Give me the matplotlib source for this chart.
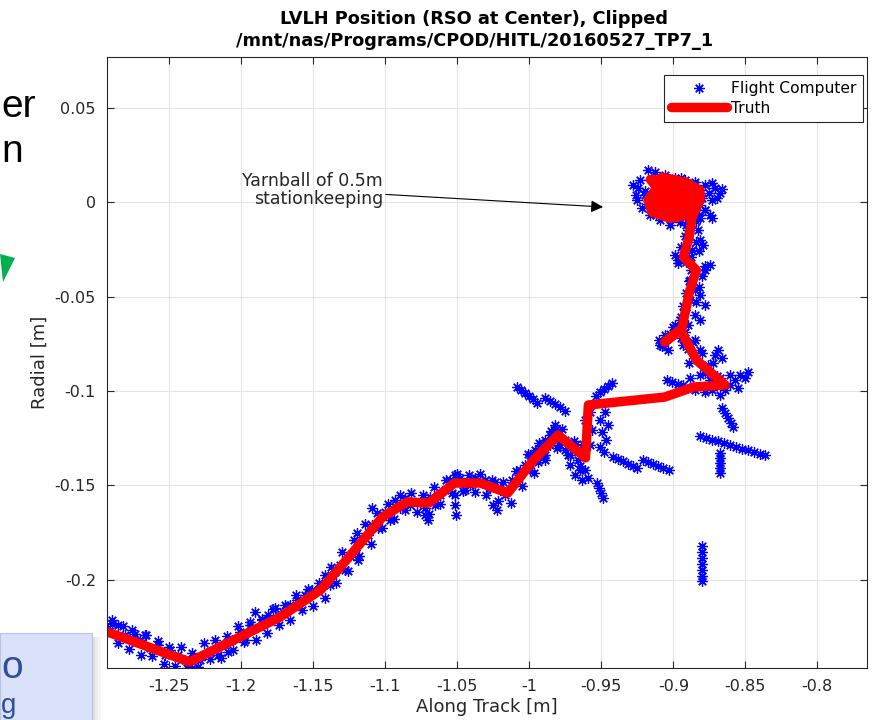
import matplotlib
matplotlib.use("Agg")
from matplotlib import pyplot as plt
from matplotlib.patches import Rectangle, Polygon

# Truth trajectory (along track, radial) [m]
truth_x = [-1.293, -1.236, -1.173, -1.145, -1.127, -1.102, -1.085, -1.070, -1.052, -1.034,
           -1.015, -0.997, -0.980, -0.961, -0.959, -0.906, -0.886, -0.864, -0.884, -0.895,
           -0.906, -0.894, -0.889, -0.884, -0.893, -0.889, -0.887,
           -0.8815, -0.8815, -0.8919, -0.9078, -0.9127, -0.9176, -0.9148, -0.9023, -0.8884,
           -0.8849, -0.9023, -0.9092, -0.8953, -0.8884, -0.9058, -0.8988,
           -0.9160, -0.8900, -0.8830, -0.9000, -0.9160, -0.9100, -0.8900, -0.8950, -0.9120,
           -0.9050, -0.8860, -0.8980, -0.9080]
truth_y = [-0.2275, -0.2434, -0.2196, -0.2053, -0.1894, -0.1667, -0.1587, -0.1593, -0.1487, -0.1487,
           -0.1540, -0.1365, -0.1233, -0.1354, -0.1074, -0.1032, -0.0979, -0.0968, -0.0836, -0.0677,
           -0.0741, -0.0667, -0.0481, -0.0360, -0.0291, -0.0185, -0.0079,
           0.0011, 0.0063, 0.0106, 0.0132, 0.0063, 0.0011, -0.0053, -0.0085, -0.0069,
           0.0037, 0.0090, 0.0011, -0.0016, 0.0063, 0.0037, -0.0042,
           0.0120, 0.0100, 0.0000, -0.0060, -0.0020, 0.0080, 0.0050, -0.0070, 0.0030,
           0.0120, 0.0080, 0.0000, -0.0030]

# Flight computer estimates [m]: streaks and clusters
fc_x = [
    -1.2925, -1.2898, -1.2856, -1.2807, -1.2759, -1.2703, -1.2668, -1.2634, -1.2578, -1.2530,
    -1.2495, -1.2439, -1.2391, -1.2342, -1.2321, -1.2287, -1.2217, -1.2161,
    -1.2113, -1.2064, -1.2009, -1.1940, -1.1905, -1.1856, -1.1814, -1.1766, -1.1710, -1.1662,
    -1.1613, -1.1557, -1.1509, -1.2092, -1.1974,
    -1.1418, -1.1384, -1.1349, -1.1315, -1.1280, -1.1245, -1.1210, -1.1189, -1.1162, -1.1120,
    -1.1092, -1.1050, -1.1002, -1.0967, -1.1196, -1.1092,
    -1.0932, -1.0898, -1.0863, -1.0828, -1.0759, -1.0724, -1.0690, -1.0655, -1.0620, -1.0724,
    -1.0703,
    -1.0585, -1.0551, -1.0516, -1.0481, -1.0446, -1.0412, -1.0377, -1.0307, -1.0273, -1.0238,
    -1.0203, -1.0168, -1.0516, -1.0516, -1.0509, -1.0224, -1.0252,
    -1.0120, -1.0078, -1.0065, -1.0030, -0.9995, -0.9960, -0.9926, -0.9891, -0.9856, -0.9821,
    -0.9995, -0.9939, -0.9891, -0.9787, -0.9856,
    -0.9821, -0.9787, -0.9752, -0.9717, -0.9682, -0.9661, -0.9752, -0.9717, -0.9648, -0.9682,
    -0.9613, -0.9634, -0.9592, -0.9578, -0.9564, -0.9613, -0.9578,
    -0.9474, -0.9509, -0.9453, -0.9495, -0.9467, -0.9509, -0.9481,
    -0.9536, -0.9509, -0.9481, -0.9453, -0.9426,
    -1.0085, -1.0058, -1.0030, -1.0002, -0.9974, -0.9946,
    -0.9891, -0.9856, -0.9821, -0.9787, -0.9752,
    -0.9419, -0.9384, -0.9349, -0.9314, -0.9280, -0.9252,
    -0.9210, -0.9175, -0.9141, -0.9106, -0.9071, -0.9029,
    -0.9530, -0.9516, -0.9502, -0.9488,
    -0.9043, -0.9009, -0.8967, -0.8932, -0.8815, -0.8780, -0.8745, -0.8710, -0.8676, -0.8731,
    -0.8780, -0.8676, -0.8641, -0.8606, -0.8571, -0.8537, -0.8502, -0.8481, -0.8550, -0.8606,
    -0.8710, -0.8689, -0.8662, -0.8884, -0.8849,
    -0.8815, -0.8773, -0.8731, -0.8690, -0.8648, -0.8606, -0.8565, -0.8523, -0.8481, -0.8440,
    -0.8398, -0.8363,
    -0.8676, -0.8676, -0.8676, -0.8676, -0.8676,
    -0.8662, -0.8641, -0.8620, -0.8599, -0.8585,
    -0.8801, -0.8801, -0.8801, -0.8801, -0.8801, -0.8801, -0.8801,
    -0.9092, -0.9057, -0.9037, -0.8988, -0.8953, -0.8919, -0.8884, -0.8849, -0.8815, -0.8780,
    -0.8745, -0.8780, -0.8967, -0.8988, -0.8815, -0.8794, -0.8745, -0.8731, -0.8898, -0.8870,
    -0.8884, -0.8912, -0.8815, -0.8724, -0.8849, -0.8898, -0.8815, -0.8932,
    -0.9231, -0.9175, -0.9127, -0.9058, -0.8988, -0.8919, -0.8849, -0.8780, -0.8710, -0.8676,
    -0.8731, -0.8780, -0.8815, -0.8884, -0.8953, -0.9023, -0.9092, -0.9162, -0.9217, -0.9259,
    -0.9245, -0.9196, -0.9127, -0.9058, -0.8988, -0.8919, -0.8849, -0.8815, -0.8953, -0.9092,
    -0.9092, -0.8815,
]
fc_y = [
    -0.2254, -0.2212, -0.2238, -0.2291, -0.2265, -0.2317, -0.2291, -0.2359, -0.2343, -0.2396,
    -0.2370, -0.2396, -0.2423, -0.2465, -0.2412, -0.2423, -0.2381, -0.2396,
    -0.2343, -0.2317, -0.2276, -0.2238, -0.2170, -0.2212, -0.2185, -0.2148, -0.2170, -0.2132,
    -0.2106, -0.2079, -0.2053, -0.2381, -0.2317,
    -0.1973, -0.2026, -0.1958, -0.1920, -0.1947, -0.1873, -0.1841, -0.1894, -0.1788, -0.1761,
    -0.1709, -0.1724, -0.1641, -0.1683, -0.1751, -0.1619,
    -0.1577, -0.1619, -0.1566, -0.1603, -0.1587, -0.1619, -0.1561, -0.1603, -0.1550, -0.1656,
    -0.1683,
    -0.1524, -0.1471, -0.1444, -0.1460, -0.1524, -0.1497, -0.1460, -0.1471, -0.1513, -0.1481,
    -0.1508, -0.1550, -0.1550, -0.1603, -0.1656, -0.1630, -0.1603,
    -0.1471, -0.1460, -0.1418, -0.1391, -0.1338, -0.1312, -0.1301, -0.1259, -0.1232, -0.1206,
    -0.1418, -0.1376, -0.1338, -0.1259, -0.1286,
    -0.1179, -0.1286, -0.1312, -0.1338, -0.1286, -0.1365, -0.1259, -0.1391, -0.1418, -0.1444,
    -0.1418, -0.1471, -0.1460, -0.1286, -0.1206, -0.1153, -0.1112,
    -0.1112, -0.1153, -0.1179, -0.1217, -0.1259, -0.1296, -0.1323,
    -0.1027, -0.1005, -0.0990, -0.0974, -0.0958,
    -0.0979, -0.0995, -0.1011, -0.1027, -0.1042, -0.1063,
    -0.1037, -0.1053, -0.1069, -0.1085, -0.1106,
    -0.1349, -0.1360, -0.1370, -0.1386, -0.1397, -0.1407,
    -0.1365, -0.1376, -0.1386, -0.1397, -0.1407, -0.1418,
    -0.1487, -0.1513, -0.1540, -0.1566,
    -0.0942, -0.0952, -0.0963, -0.0968, -0.0915, -0.0889, -0.0942, -0.0968, -0.0931, -0.0995,
    -0.1005, -0.1021, -0.0995, -0.0968, -0.0942, -0.0915, -0.0931, -0.0899, -0.0984, -0.0915,
    -0.0809, -0.0783, -0.0825, -0.0931, -0.0995,
    -0.1238, -0.1249, -0.1259, -0.1265, -0.1275, -0.1286, -0.1296, -0.1307, -0.1312, -0.1323,
    -0.1333, -0.1339,
    -0.1328, -0.1354, -0.1381, -0.1407, -0.1434,
    -0.1090, -0.1116, -0.1143, -0.1169, -0.1190,
    -0.1820, -0.1852, -0.1884, -0.1915, -0.1947, -0.1979, -0.2005,
    -0.0757, -0.0704, -0.0783, -0.0651, -0.0624, -0.0571, -0.0519, -0.0466, -0.0492, -0.0545,
    -0.0333, -0.0360, -0.0307, -0.0280, -0.0201, -0.0228, -0.0069, -0.0085, -0.0148, -0.0254,
    -0.0413, -0.0317, -0.0783, -0.0852, -0.0730, -0.0651, -0.0624, -0.0757,
    0.0116, 0.0169, 0.0159, 0.0143, 0.0127, 0.0116, 0.0106, 0.0090, 0.0074, 0.0048,
    0.0011, -0.0042, -0.0085, -0.0106, -0.0106, -0.0122, -0.0095, -0.0069, -0.0032, 0.0037,
    0.0074, 0.0037, 0.0011, 0.0063, 0.0037, 0.0011, 0.0037, -0.0016, -0.0042, -0.0032,
    0.0101, 0.0063,
]

# Flight computer estimates [m]: the dense band that follows the truth
band_x = [
    -1.290, -1.286, -1.282, -1.278, -1.274, -1.270, -1.266, -1.262, -1.258, -1.254,
    -1.250, -1.246, -1.242, -1.238,
    -1.234, -1.230, -1.226, -1.222, -1.218, -1.214, -1.210, -1.206, -1.202, -1.198,
    -1.194, -1.190, -1.186, -1.182, -1.178, -1.174,
    -1.170, -1.166, -1.162, -1.158, -1.154, -1.150, -1.146,
    -1.142, -1.138, -1.134, -1.130, -1.126, -1.122, -1.118, -1.114, -1.110, -1.106, -1.102,
    -1.098, -1.094, -1.090, -1.086, -1.082, -1.078, -1.074, -1.070,
    -1.066, -1.062, -1.058, -1.054, -1.050, -1.046, -1.042, -1.038, -1.034,
    -1.030, -1.026, -1.022, -1.018, -1.013, -1.009, -1.005, -1.001, -0.997,
    -0.993, -0.989, -0.985, -0.981, -0.977, -0.973, -0.969, -0.965, -0.963,
    -0.870, -0.878, -0.876, -0.889, -0.880, -0.890, -0.886, -0.895, -0.902, -0.910,
    -0.908, -0.900, -0.892, -0.895, -0.885, -0.893, -0.884, -0.891, -0.882, -0.889,
    -0.880, -0.888, -0.878, -0.897, -0.888, -0.882, -0.895, -0.884, -0.892, -0.883,
    -0.891, -0.884,
    -0.915, -0.905, -0.895, -0.885, -0.875, -0.920, -0.910, -0.900, -0.890, -0.880,
    -0.918, -0.908, -0.898, -0.888, -0.878, -0.912, -0.902, -0.892, -0.882, -0.925,
    -0.928, -0.870, -0.866, -0.873,
]
band_y = [
    -0.2233, -0.2335, -0.2246, -0.2367, -0.2288, -0.2399, -0.2290, -0.2401, -0.2323, -0.2444,
    -0.2355, -0.2456, -0.2357, -0.2468,
    -0.2386, -0.2461, -0.2336, -0.2421, -0.2316, -0.2411, -0.2296, -0.2371, -0.2246, -0.2330,
    -0.2225, -0.2320, -0.2205, -0.2280, -0.2155, -0.2240,
    -0.2131, -0.2210, -0.2080, -0.2160, -0.2049, -0.2139, -0.2018,
    -0.2097, -0.1931, -0.2016, -0.1850, -0.1955, -0.1789, -0.1872, -0.1706, -0.1810, -0.1643, -0.1727,
    -0.1598, -0.1679, -0.1551, -0.1632, -0.1538, -0.1640, -0.1551, -0.1653,
    -0.1509, -0.1596, -0.1472, -0.1539, -0.1437, -0.1527, -0.1447, -0.1537, -0.1437,
    -0.1548, -0.1469, -0.1581, -0.1482, -0.1591, -0.1422, -0.1503, -0.1334, -0.1435,
    -0.1274, -0.1363, -0.1212, -0.1301, -0.1202, -0.1338, -0.1263, -0.1399, -0.1281,
    -0.0920, -0.0905, -0.0860, -0.0850, -0.0800, -0.0780, -0.0740, -0.0720, -0.0700, -0.0730,
    -0.0760, -0.0660, -0.0690, -0.0610, -0.0600, -0.0550, -0.0530, -0.0480, -0.0450, -0.0420,
    -0.0390, -0.0360, -0.0340, -0.0320, -0.0290, -0.0260, -0.0240, -0.0210, -0.0180, -0.0150,
    -0.0120, -0.0100,
    0.012, 0.011, 0.013, 0.009, 0.005, 0.006, 0.004, 0.006, 0.004, 0.002,
    -0.001, -0.002, -0.003, -0.002, -0.004, -0.007, -0.009, -0.008, -0.007, 0.001,
    0.009, 0.002, 0.007, 0.010,
]

x_ticks = [-1.25, -1.2, -1.15, -1.1, -1.05, -1.0, -0.95, -0.9, -0.85, -0.8]
x_ticklabels = ["-1.25", "-1.2", "-1.15", "-1.1", "-1.05", "-1", "-0.95", "-0.9", "-0.85", "-0.8"]
y_ticks = [-0.2, -0.15, -0.1, -0.05, 0.0, 0.05]
y_ticklabels = ["-0.2", "-0.15", "-0.1", "-0.05", "0", "0.05"]

plt.rcParams['font.family'] = ['DejaVu Sans']
fig = plt.figure(figsize=(8.92, 7.2), dpi=100)

# leftovers of the slide around the figure
slide_font = dict(family="Liberation Sans", ha="left", va="baseline")
fig.text(1 / 892, 1 - 117 / 720, "er", color="black", fontsize=28, **slide_font)
fig.text(1 / 892, 1 - 162 / 720, "n", color="black", fontsize=28, **slide_font)
fig.patches.append(Polygon([[0, 1 - 254 / 720], [15 / 892, 1 - 258 / 720], [3 / 892, 1 - 282 / 720]],
                           closed=True, transform=fig.transFigure, facecolor="#00b050",
                           edgecolor="none"))
for i, a in enumerate([0.25, 0.15, 0.08]):
    fig.patches.append(Rectangle(((92 + 3 * i) / 892, 0), 3 / 892, (720 - 637) / 720,
                                 transform=fig.transFigure, facecolor="gray", alpha=a,
                                 edgecolor="none"))
fig.patches.append(Rectangle((0, 0), 92 / 892, (720 - 633) / 720, transform=fig.transFigure,
                             facecolor="#d9e2fa", edgecolor="#b8c4e6", lw=0.8))
fig.text(1 / 892, 1 - 678 / 720, "o", color="#2e4d9e", fontsize=28, **slide_font)
fig.text(1 / 892, 1 - 713 / 720, "g", color="#2e4d9e", fontsize=20, **slide_font)

ax = fig.add_axes([107 / 892, 52 / 720, 760 / 892, 611 / 720])
star = dict(linestyle="none", marker=(8, 2, 0), markersize=7.5, mew=0.9, color="#0000ff")
ax.plot(fc_x, fc_y, label="Flight Computer", **star)
ax.plot(band_x, band_y, **star)
ax.plot(truth_x, truth_y, color="#ff0000", lw=6.8, solid_joinstyle="round",
        solid_capstyle="round", label="Truth")

ax.set_xlim(-1.2933, -0.7655)
ax.set_ylim(-0.2466, 0.0768)
ax.set_xticks(x_ticks)
ax.set_xticklabels(x_ticklabels)
ax.set_yticks(y_ticks)
ax.set_yticklabels(y_ticklabels)
ax.grid(True, color="#e3e3e3", lw=0.8)
ax.set_axisbelow(True)
ax.tick_params(direction="in", top=True, right=True, length=5, labelsize=11.5,
               colors="#262626", pad=8)
for s in ax.spines.values():
    s.set_color("#262626")
    s.set_linewidth(0.8)

ax.set_xlabel("Along Track [m]", fontsize=13, color="#262626", labelpad=3)
ax.set_ylabel("Radial [m]", fontsize=13, color="#262626", labelpad=4)
ax.set_title("LVLH Position (RSO at Center), Clipped\n/mnt/nas/Programs/CPOD/HITL/20160527_TP7_1",
             fontsize=12.8, fontweight="bold", x=0.483, pad=8, linespacing=1.3)

ax.annotate("Yarnball of 0.5m\nstationkeeping", xy=(-0.9488, -0.0026), xytext=(-1.1016, 0.0063),
            ha="right", va="center", multialignment="right", fontsize=12.5, color="#262626",
            linespacing=1.0,
            arrowprops=dict(arrowstyle="-|>", color="black", lw=0.8, mutation_scale=18,
                            shrinkA=0, shrinkB=0))

leg = ax.legend(loc="upper right", bbox_to_anchor=(0.9947, 0.9705), numpoints=1,
                handlelength=3.6, fontsize=11.2, fancybox=False, framealpha=1,
                edgecolor="#262626", borderaxespad=0, handletextpad=0.3, borderpad=0.4,
                labelspacing=0.3)
leg.get_frame().set_linewidth(0.8)

plt.savefig("out.png", dpi=100)
